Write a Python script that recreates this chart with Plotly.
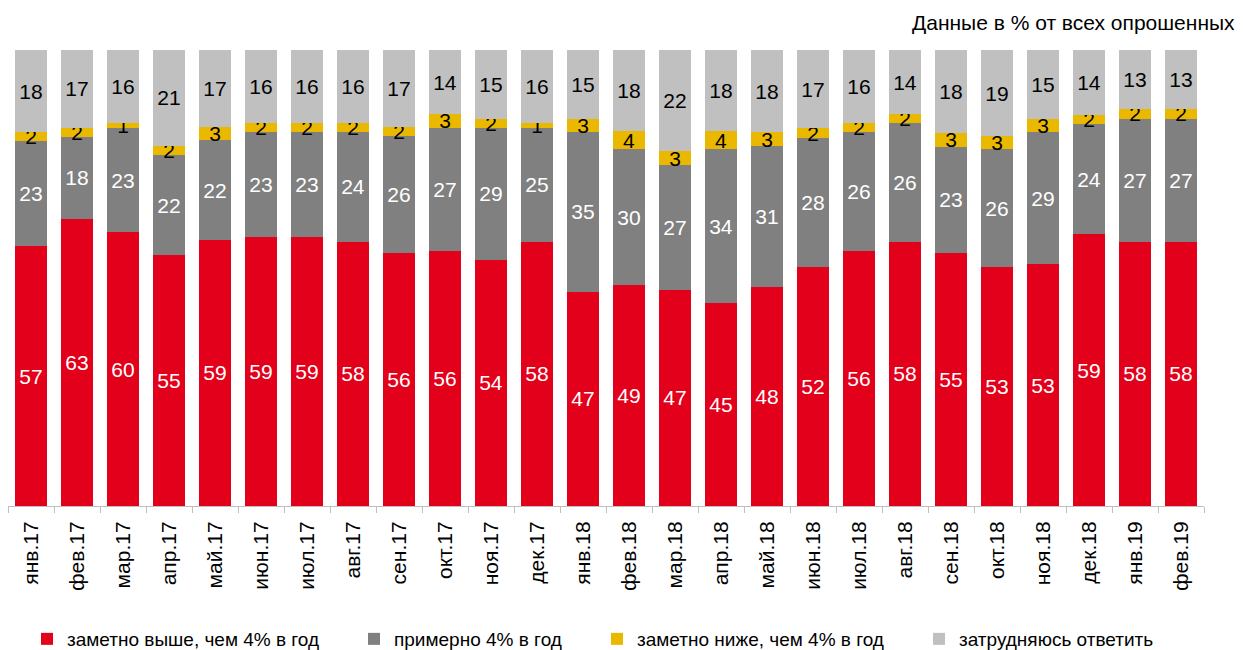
import plotly.graph_objects as go

categories = ["янв.17", "фев.17", "мар.17", "апр.17", "май.17", "июн.17", "июл.17", "авг.17",
              "сен.17", "окт.17", "ноя.17", "дек.17", "янв.18", "фев.18", "мар.18", "апр.18",
              "май.18", "июн.18", "июл.18", "авг.18", "сен.18", "окт.18", "ноя.18", "дек.18",
              "янв.19", "фев.19"]

much_higher = [57, 63, 60, 55, 59, 59, 59, 58, 56, 56, 54, 58, 47, 49, 47, 45, 48, 52, 56, 58, 55, 53, 53, 59, 58, 58]
about_4 = [23, 18, 23, 22, 22, 23, 23, 24, 26, 27, 29, 25, 35, 30, 27, 34, 31, 28, 26, 26, 23, 26, 29, 24, 27, 27]
much_lower = [2, 2, 1, 2, 3, 2, 2, 2, 2, 3, 2, 1, 3, 4, 3, 4, 3, 2, 2, 2, 3, 3, 3, 2, 2, 2]
hard_to_say = [18, 17, 16, 21, 17, 16, 16, 16, 17, 14, 15, 16, 15, 18, 22, 18, 18, 17, 16, 14, 18, 19, 15, 14, 13, 13]

series = [
    ("заметно выше, чем 4% в год", much_higher, "#E2001A", "white", "legend"),
    ("примерно 4% в год", about_4, "#808080", "white", "legend2"),
    ("заметно ниже, чем 4% в год", much_lower, "#EBB800", "black", "legend3"),
    ("затрудняюсь ответить", hard_to_say, "#C0C0C0", "black", "legend4"),
]

FONT = "Liberation Sans, Arial, sans-serif"

fig = go.Figure()
for name, vals, color, tcolor, leg in series:
    fig.add_trace(go.Bar(
        x=categories, y=vals, name=name, showlegend=True,
        marker=dict(color=color, line=dict(width=0)),
        text=[str(v) for v in vals],
        textposition="inside", insidetextanchor="middle", textangle=0,
        insidetextfont=dict(color=tcolor, size=21, family=FONT),
        legend=leg, hoverinfo="skip",
    ))

# page is offset by the 8px body margin; targets below are in figure pixels
W, H = 1243, 650
ml, mr, mt = 0, 47, 33
ph = 466
mb = H - mt - ph
pw = W - ml - mr

def px_x(p):
    return (p - ml) / pw

def px_y(p):
    return (H - mb - p) / ph

leg_common = dict(orientation="h", yanchor="middle", xanchor="left",
                  font=dict(size=19, family=FONT, color="black"),
                  bgcolor="rgba(0,0,0,0)")
leg_y = px_y(632)

fig.update_layout(
    width=W, height=H,
    margin=dict(l=ml, r=mr, t=mt, b=mb),
    showlegend=True,
    barmode="stack", barnorm="percent", bargap=0.283,
    plot_bgcolor="white", paper_bgcolor="white",
    font=dict(family=FONT, color="black"),
    uniformtext=dict(minsize=21, mode="show"),
    xaxis=dict(type="category", tickangle=-90, tickfont=dict(size=21, family=FONT, color="black"),
               showline=True, linecolor="#BFBFBF", linewidth=1,
               ticks="outside", tickson="boundaries", ticklen=6, tickcolor="#BFBFBF",
               ticklabelstandoff=6,
               showgrid=False, fixedrange=True),
    yaxis=dict(range=[0, 102], visible=False, showgrid=False, fixedrange=True),
    legend=dict(x=px_x(19), y=leg_y, **leg_common),
    legend2=dict(x=px_x(346), y=leg_y, **leg_common),
    legend3=dict(x=px_x(589), y=leg_y, **leg_common),
    legend4=dict(x=px_x(911), y=leg_y, **leg_common),
    annotations=[dict(text="Данные в % от всех опрошенных", xref="paper", yref="paper",
                      x=px_x(1229), y=px_y(14), xanchor="right", yanchor="middle",
                      showarrow=False, font=dict(size=21, family=FONT, color="black"))],
)

fig.write_html("out.html")
